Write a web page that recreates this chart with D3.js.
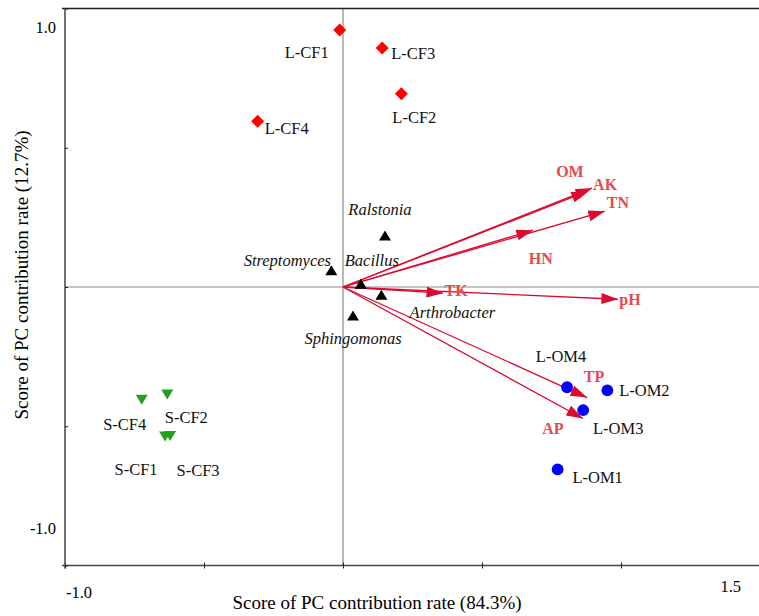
<!DOCTYPE html>
<html>
<head>
<meta charset="utf-8">
<script src="https://cdn.jsdelivr.net/npm/d3@7"></script>
<style>
  body { margin: 0; background: #fff; }
  svg text { font-family: 'Liberation Serif', 'Times New Roman', serif; }
</style>
</head>
<body>
<svg id="chart" width="759" height="616"></svg>
<script>
// sample scores (PC1, PC2)
const lcfNames = ['L-CF1', 'L-CF2', 'L-CF3', 'L-CF4'];
const lcfX = [-0.012, 0.210, 0.141, -0.307];
const lcfY = [0.923, 0.694, 0.858, 0.595];

const lomNames = ['L-OM1', 'L-OM2', 'L-OM3', 'L-OM4'];
const lomX = [0.772, 0.951, 0.864, 0.806];
const lomY = [-0.655, -0.371, -0.442, -0.360];

const scfNames = ['S-CF1', 'S-CF2', 'S-CF3', 'S-CF4'];
const scfX = [-0.640, -0.632, -0.622, -0.724];
const scfY = [-0.537, -0.386, -0.535, -0.405];

// bacteria
const bacNames = ['Ralstonia', 'Streptomyces', 'Bacillus', 'Arthrobacter', 'Sphingomonas'];
const bacX = [0.151, -0.042, 0.064, 0.138, 0.036];
const bacY = [0.183, 0.058, 0.010, -0.030, -0.104];

// soil property vectors
const envNames = ['OM', 'AK', 'TN', 'HN', 'TK', 'pH', 'TP', 'AP'];
const envX = [0.881, 0.896, 0.942, 0.683, 0.360, 0.989, 0.878, 0.863];
const envY = [0.344, 0.355, 0.272, 0.204, -0.022, -0.044, -0.397, -0.472];

const xTicks = [-1, -0.5, 0, 0.5, 1];
const yTicks = [-1, -0.5, 0, 0.5, 1];

// label placement (pixel offsets of the text centre from the mark)
const labelOffset = {
  'L-CF1': [-33, 22], 'L-CF2': [13, 24], 'L-CF3': [31, 5], 'L-CF4': [29, 7],
  'L-OM1': [40, 8], 'L-OM2': [37, 0], 'L-OM3': [35, 18], 'L-OM4': [-6, -31],
  'S-CF1': [-29, 33], 'S-CF2': [19, 23], 'S-CF3': [28, 34], 'S-CF4': [-17, 24],
  Ralstonia: [-5, -27], Streptomyces: [-44, -11], Bacillus: [11, -24],
  Arthrobacter: [71, 17], Sphingomonas: [0, 22],
  OM: [-18, -20], AK: [13, -4], TN: [13, -9], HN: [8, 28],
  TK: [13, -3], pH: [12, 0], TP: [7, -21], AP: [-30, 10]
};

const svg = d3.select('#chart');

const x = d3.scaleLinear().domain([-1, 1.5]).range([65, 760]);
const y = d3.scaleLinear().domain([-1, 1]).range([565.5, 8.5]);

// origin lines
svg.append('line')
  .attr('x1', x(0)).attr('x2', x(0))
  .attr('y1', y(1)).attr('y2', y(-1))
  .attr('stroke', '#8a8a8a').attr('stroke-width', 1.2);
svg.append('line')
  .attr('x1', x(-1)).attr('x2', 759)
  .attr('y1', y(0)).attr('y2', y(0))
  .attr('stroke', '#8a8a8a').attr('stroke-width', 1.2);

// top frame line
svg.append('line')
  .attr('x1', x(-1) - 3).attr('x2', 759)
  .attr('y1', y(1)).attr('y2', y(1))
  .attr('stroke', '#222').attr('stroke-width', 1.5);

// axes
const gx = svg.append('g')
  .attr('transform', 'translate(0,' + y(-1) + ')')
  .call(d3.axisBottom(x).tickValues(xTicks).tickSize(3).tickFormat(''));
gx.select('.domain').attr('d', 'M' + (x(-1) - 3) + ',0H759').attr('stroke', '#444').attr('stroke-width', 1.5);
gx.selectAll('.tick line').attr('y1', -3).attr('stroke', '#222');

const gy = svg.append('g')
  .attr('transform', 'translate(' + x(-1) + ',0)')
  .call(d3.axisLeft(y).tickValues(yTicks).tickSize(3).tickFormat(''));
gy.select('.domain').attr('d', 'M0,' + y(1) + 'V' + (y(-1) + 3)).attr('stroke', '#444').attr('stroke-width', 1.5);
gy.selectAll('.tick line').attr('x2', 3).attr('stroke', '#222');

// end tick labels
const tickFont = '16.5px';
svg.append('text').attr('x', x(-1) + 1).attr('y', y(-1) + 32)
  .style('font-size', tickFont).text('-1.0');
svg.append('text').attr('x', 741).attr('y', y(-1) + 26)
  .style('text-anchor', 'end').style('font-size', tickFont).text('1.5');
svg.append('text').attr('x', x(-1) - 9).attr('y', y(1) + 24)
  .style('text-anchor', 'end').style('font-size', tickFont).text('1.0');
svg.append('text').attr('x', x(-1) - 9).attr('y', y(-1) - 32)
  .style('text-anchor', 'end').style('font-size', tickFont).text('-1.0');

// axis titles
svg.append('text').attr('x', 377).attr('y', 609)
  .style('text-anchor', 'middle').style('font-size', '19px')
  .text('Score of PC contribution rate (84.3%)');
svg.append('text')
  .attr('transform', 'translate(28,275) rotate(-90)')
  .style('text-anchor', 'middle').style('font-size', '19px')
  .text('Score of PC contribution rate (12.7%)');

// arrows
const arrowColor = '#dc0a2e';
svg.append('defs').append('marker')
  .attr('id', 'head')
  .attr('viewBox', '0 0 12 8')
  .attr('refX', 12).attr('refY', 4)
  .attr('markerWidth', 17).attr('markerHeight', 11)
  .attr('markerUnits', 'userSpaceOnUse')
  .attr('orient', 'auto')
  .append('path')
  .attr('d', 'M0,0L12,4L0,8Z')
  .attr('fill', arrowColor);

const env = envNames.map((n, i) => ({ name: n, x: envX[i], y: envY[i] }));
svg.append('g').selectAll('line')
  .data(env)
  .join('line')
  .attr('x1', x(0)).attr('y1', y(0))
  .attr('x2', (d) => x(d.x)).attr('y2', (d) => y(d.y))
  .attr('stroke', arrowColor).attr('stroke-width', 1.3)
  .attr('marker-end', 'url(#head)');

svg.append('g').selectAll('text')
  .data(env)
  .join('text')
  .attr('x', (d) => x(d.x) + labelOffset[d.name][0])
  .attr('y', (d) => y(d.y) + labelOffset[d.name][1])
  .attr('dy', '0.35em')
  .style('text-anchor', 'middle')
  .style('font-size', '16px').style('font-weight', 'bold')
  .attr('fill', '#e8484f')
  .text((d) => d.name);

// point groups
function toPoints(names, xs, ys) {
  return names.map((n, i) => ({ name: n, x: xs[i], y: ys[i] }));
}

function drawGroup(points, symbol, color, italic) {
  const g = svg.append('g');
  g.selectAll('path')
    .data(points)
    .join('path')
    .attr('transform', (d) => 'translate(' + x(d.x) + ',' + y(d.y) + ')')
    .attr('d', symbol)
    .attr('fill', color);
  g.selectAll('text')
    .data(points)
    .join('text')
    .attr('x', (d) => x(d.x) + labelOffset[d.name][0])
    .attr('y', (d) => y(d.y) + labelOffset[d.name][1])
    .attr('dy', '0.35em')
    .style('text-anchor', 'middle')
    .style('font-size', '16.5px')
    .style('font-style', italic ? 'italic' : 'normal')
    .attr('fill', '#111')
    .text((d) => d.name);
}

const diamond = 'M0,-6.5L6.5,0L0,6.5L-6.5,0Z';
const triUp = 'M0,-5.5L6,4.5L-6,4.5Z';
const triDown = 'M0,5L6,-5L-6,-5Z';
const circle = d3.symbol(d3.symbolCircle, 110)();

drawGroup(toPoints(lcfNames, lcfX, lcfY), diamond, '#ff0000', false);
drawGroup(toPoints(bacNames, bacX, bacY), triUp, '#000', true);
drawGroup(toPoints(lomNames, lomX, lomY), circle, '#0000ff', false);
drawGroup(toPoints(scfNames, scfX, scfY), triDown, '#22a11c', false);
</script>
</body>
</html>
